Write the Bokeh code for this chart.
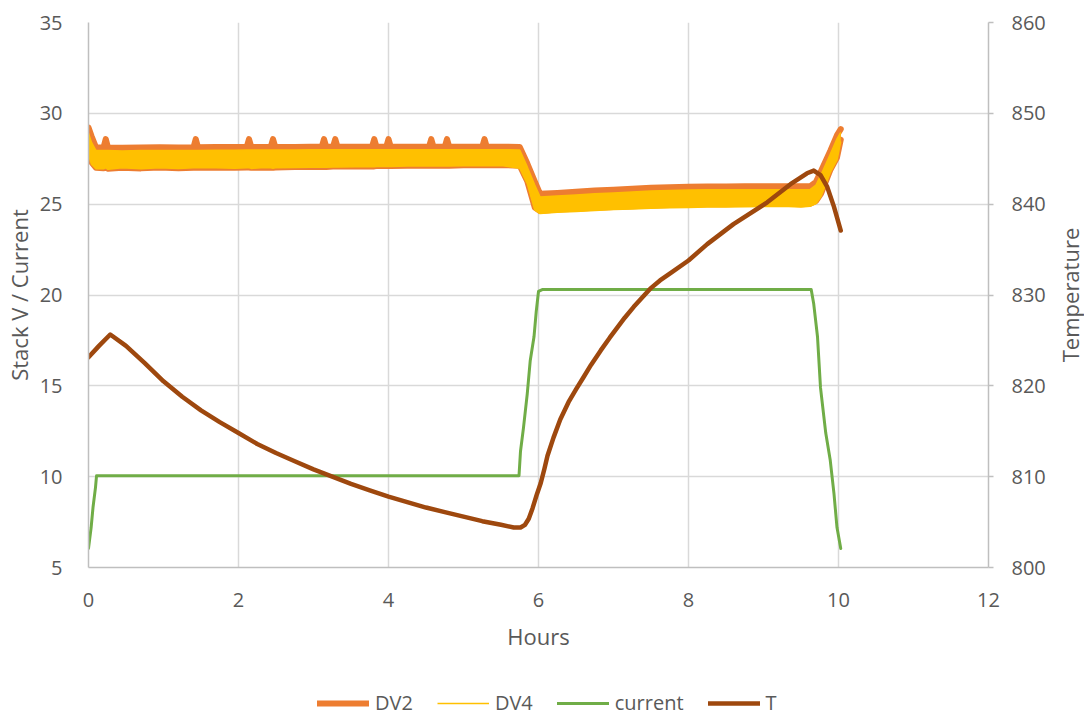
import math
from bokeh.plotting import figure
from bokeh.layouts import column, row
from bokeh.models import Range1d, LinearAxis, SingleIntervalTicker, Legend, LegendItem, Label
from bokeh.embed import file_html
from bokeh.resources import INLINE

# ---------------- data ----------------
# stack voltage envelopes (hours)
tv = [0.00, 0.04, 0.10, 0.20, 0.23, 0.26, 0.45, 0.70, 0.95, 1.20,
      1.40, 1.43, 1.46, 1.70, 1.95, 2.11, 2.14, 2.17, 2.30, 2.43,
      2.46, 2.49, 2.75, 2.95, 3.11, 3.14, 3.17, 3.26, 3.29, 3.32,
      3.55, 3.78, 3.81, 3.84, 3.97, 4.00, 4.03, 4.25, 4.54, 4.57,
      4.60, 4.75, 4.78, 4.81, 5.00, 5.25, 5.28, 5.31, 5.50, 5.75,
      5.85, 5.95, 6.02, 6.25, 6.50, 6.75, 7.00, 7.25, 7.50, 7.75,
      8.00, 8.25, 8.50, 8.75, 9.00, 9.25, 9.50, 9.62, 9.70, 9.77,
      9.89, 9.98, 10.03]
dv2_hi = [29.22, 28.75, 28.13, 28.12, 28.58, 28.12, 28.10, 28.12, 28.13, 28.12,
          28.13, 28.58, 28.13, 28.14, 28.14, 28.15, 28.58, 28.15, 28.15, 28.15,
          28.58, 28.15, 28.15, 28.16, 28.16, 28.58, 28.16, 28.16, 28.58, 28.16,
          28.16, 28.16, 28.58, 28.16, 28.16, 28.58, 28.16, 28.16, 28.16, 28.58,
          28.16, 28.16, 28.58, 28.16, 28.16, 28.16, 28.58, 28.16, 28.16, 28.15,
          27.25, 26.25, 25.58, 25.62, 25.68, 25.75, 25.80, 25.85, 25.90, 25.93,
          25.96, 25.97, 25.97, 25.98, 25.98, 25.98, 25.98, 25.98, 26.23, 26.85,
          27.93, 28.80, 29.13]
dv2_lo = [28.00, 27.30, 27.00, 26.98, 27.00, 26.95, 27.00, 26.97, 27.02, 26.98,
          27.00, 27.00, 27.00, 27.02, 27.00, 27.02, 27.02, 27.00, 27.02, 27.00,
          27.00, 27.02, 27.05, 27.05, 27.05, 27.05, 27.05, 27.07, 27.07, 27.07,
          27.08, 27.08, 27.08, 27.10, 27.10, 27.10, 27.10, 27.12, 27.12, 27.12,
          27.12, 27.12, 27.12, 27.12, 27.14, 27.14, 27.14, 27.14, 27.15, 27.12,
          26.27, 24.82, 24.62, 24.70, 24.75, 24.80, 24.85, 24.88, 24.92, 24.95,
          24.98, 25.00, 25.00, 25.02, 25.02, 25.03, 25.00, 25.02, 25.17, 25.60,
          26.87, 27.57, 28.55]
dv4_hi = [28.90, 28.40, 27.95, 27.95, 27.95, 27.95, 27.93, 27.95, 27.96, 27.95,
          27.96, 27.96, 27.96, 27.97, 27.97, 27.98, 27.98, 27.98, 27.98, 27.98,
          27.98, 27.98, 27.98, 27.99, 27.99, 27.99, 27.99, 27.99, 27.99, 27.99,
          27.99, 28.00, 28.00, 28.00, 28.00, 28.00, 28.00, 28.00, 28.00, 28.00,
          28.00, 28.00, 28.00, 28.00, 28.00, 28.00, 28.00, 28.00, 28.00, 27.98,
          27.05, 26.05, 25.40, 25.45, 25.50, 25.57, 25.62, 25.67, 25.72, 25.75,
          25.78, 25.79, 25.79, 25.80, 25.80, 25.80, 25.80, 25.80, 26.05, 26.65,
          27.75, 28.60, 28.95]
dv4_lo = [27.70, 27.20, 26.95, 26.95, 27.00, 26.92, 27.00, 26.95, 27.00, 26.97,
          27.00, 27.00, 27.00, 27.00, 26.98, 27.00, 27.00, 26.97, 27.00, 27.00,
          26.98, 27.00, 27.02, 27.03, 27.03, 27.03, 27.03, 27.05, 27.05, 27.05,
          27.06, 27.06, 27.06, 27.07, 27.07, 27.08, 27.08, 27.10, 27.10, 27.10,
          27.10, 27.10, 27.10, 27.10, 27.12, 27.12, 27.12, 27.12, 27.13, 26.98,
          26.13, 24.68, 24.48, 24.55, 24.60, 24.65, 24.70, 24.73, 24.77, 24.80,
          24.82, 24.84, 24.85, 24.86, 24.87, 24.88, 24.85, 24.88, 25.03, 25.45,
          26.73, 27.43, 28.45]

# current
cur_t = [0.0, 0.035, 0.06, 0.093, 0.107, 5.74, 5.76, 5.80, 5.85, 5.89, 5.94, 5.97,
         6.0, 6.05, 9.636, 9.67, 9.72, 9.76, 9.83, 9.89, 9.94, 9.98, 10.03]
cur_v = [6.05, 7.2, 8.3, 9.4, 10.05, 10.05, 11.4, 12.7, 14.56, 16.4, 17.7, 19.1,
         20.2, 20.3, 20.3, 19.5, 17.7, 14.9, 12.4, 10.9, 9.05, 7.2, 6.05]

# temperature (right axis)
temp_t = [0.0, 0.14, 0.29, 0.5, 0.75, 1.0, 1.25, 1.5, 1.75, 2.0, 2.25, 2.5, 2.75,
          3.0, 3.25, 3.5, 3.75, 4.0, 4.25, 4.5, 4.75, 5.0, 5.25, 5.5, 5.67, 5.76,
          5.82, 5.87, 5.92, 5.98, 6.03, 6.08, 6.12, 6.2, 6.29, 6.4, 6.5, 6.6, 6.7,
          6.83, 6.95, 7.05, 7.15, 7.27, 7.38, 7.49, 7.62, 7.76, 8.0, 8.25, 8.6,
          9.05, 9.36, 9.58, 9.67, 9.76, 9.85, 9.94, 10.03]
temp_v = [823.15, 824.4, 825.65, 824.4, 822.5, 820.5, 818.8, 817.3, 816.0, 814.8,
          813.6, 812.6, 811.7, 810.8, 810.0, 809.2, 808.5, 807.8, 807.2, 806.6,
          806.1, 805.6, 805.1, 804.7, 804.4, 804.4, 804.7, 805.36, 806.5, 808.1,
          809.3, 810.9, 812.3, 814.3, 816.3, 818.2, 819.6, 820.95, 822.3, 823.9,
          825.3, 826.4, 827.5, 828.7, 829.7, 830.7, 831.6, 832.4, 833.8, 835.6,
          837.8, 840.2, 842.2, 843.4, 843.7, 843.2, 841.9, 839.7, 837.1]

x_ticks_interval = 2
left_ticks_interval = 5
right_ticks_interval = 10

# ---------------- style ----------------
FONT = "Open Sans"
TXT = "#595959"
GRID = "#D9D9D9"
AXIS = "#BFBFBF"
ORANGE = "#ED7D31"
YELLOW = "#FFC000"
GREEN = "#70AD47"
BROWN = "#9E480E"

p = figure(width=1052, height=656, output_backend="svg", toolbar_location=None,
           x_range=Range1d(0, 12), y_range=Range1d(5, 35),
           min_border_left=88, min_border_right=64, min_border_top=22,
           min_border_bottom=89)
p.extra_y_ranges = {"T": Range1d(800, 860)}
p.outline_line_color = None
p.background_fill_color = "white"
p.border_fill_color = "white"

p.xaxis.ticker = SingleIntervalTicker(interval=x_ticks_interval)
p.yaxis.ticker = SingleIntervalTicker(interval=left_ticks_interval)
p.xgrid.grid_line_color = GRID
p.ygrid.grid_line_color = GRID
p.xgrid.grid_line_width = 1.5
p.ygrid.grid_line_width = 1.5

raxis = LinearAxis(y_range_name="T", ticker=SingleIntervalTicker(interval=right_ticks_interval))
p.add_layout(raxis, "right")

for ax in [p.xaxis[0], p.yaxis[0], raxis]:
    ax.axis_line_color = AXIS
    ax.axis_line_width = 1.5
    ax.major_tick_in = 0
    ax.major_tick_out = 0
    ax.minor_tick_line_color = None
    ax.major_label_text_font = FONT
    ax.major_label_text_font_size = "20px"
    ax.major_label_text_color = TXT
    ax.axis_label_text_font = FONT
    ax.axis_label_text_font_size = "22px"
    ax.axis_label_text_color = TXT
    ax.axis_label_text_font_style = "normal"

p.xaxis.axis_label = "Hours"
p.xaxis.major_label_standoff = 21
p.xaxis.axis_label_standoff = 11

p.yaxis[0].axis_label = "Stack V / Current"
p.yaxis[0].major_label_standoff = 22
p.yaxis[0].axis_label_standoff = 3

raxis.major_tick_out = 5
raxis.major_tick_line_color = AXIS
raxis.major_tick_line_width = 1.5
raxis.major_label_standoff = 18

# ---------------- glyphs ----------------
p.varea(x=tv, y1=dv2_lo, y2=dv2_hi, fill_color=ORANGE)
p.line(tv, dv2_hi, line_width=6, line_color=ORANGE, line_cap="round", line_join="round")
p.line(tv, dv2_lo, line_width=6, line_color=ORANGE, line_cap="round", line_join="round")
p.varea(x=tv, y1=dv4_lo, y2=dv4_hi, fill_color=YELLOW)
p.line(tv, dv4_hi, line_width=1.5, line_color=YELLOW, line_join="round")
p.line(tv, dv4_lo, line_width=1.5, line_color=YELLOW, line_join="round")

p.line(cur_t, cur_v, line_width=3, line_color=GREEN, line_cap="round", line_join="round")
p.line(temp_t, temp_v, y_range_name="T", line_width=4.5, line_color=BROWN,
       line_cap="round", line_join="round")

# ---------------- right-axis title strip (reads bottom-to-top) ----------------
tf = figure(width=32, height=656, output_backend="svg", toolbar_location=None,
            x_range=Range1d(0, 1), y_range=Range1d(0, 1),
            x_axis_type=None, y_axis_type=None, min_border=0)
tf.outline_line_color = None
tf.grid.visible = False
tf.add_layout(Label(x=0.5, y=0.5, x_offset=1, text="Temperature", angle=math.pi / 2,
                    text_align="center", text_baseline="middle",
                    text_font=FONT, text_font_size="22px", text_color=TXT))

# ---------------- legend strip below the chart ----------------
# the same series are drawn here (far outside this strip's ranges, so unseen)
# only to give the legend its keys
lg = figure(width=1084, height=60, output_backend="svg", toolbar_location=None,
            x_range=Range1d(0, 1), y_range=Range1d(0, 1),
            x_axis_type=None, y_axis_type=None, min_border=0)
lg.outline_line_color = None
lg.grid.visible = False
l_dv2 = lg.line(tv, dv2_hi, line_width=6, line_color=ORANGE, line_cap="round")
l_dv4 = lg.line(tv, dv4_hi, line_width=1.5, line_color=YELLOW)
l_cur = lg.line(cur_t, cur_v, line_width=3, line_color=GREEN, line_cap="round")
l_T = lg.line(temp_t, temp_v, line_width=4.5, line_color=BROWN, line_cap="round")

legend = Legend(items=[LegendItem(label="DV2", renderers=[l_dv2]),
                       LegendItem(label="DV4", renderers=[l_dv4]),
                       LegendItem(label="current", renderers=[l_cur]),
                       LegendItem(label="T", renderers=[l_T])],
                orientation="horizontal", location=(317, 0),
                padding=0, margin=0, spacing=24, glyph_width=52, label_standoff=6,
                border_line_color=None, background_fill_alpha=0,
                label_text_font=FONT, label_text_font_size="20px", label_text_color=TXT)
lg.add_layout(legend, "center")

layout = column(row(p, tf, spacing=0), lg, spacing=0)
open("out.html", "w").write(file_html(layout, INLINE))
